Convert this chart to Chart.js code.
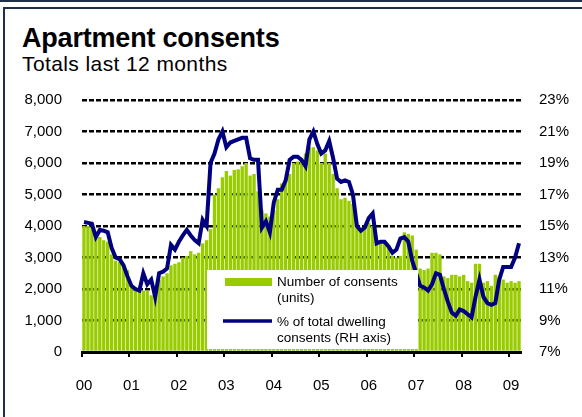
<!DOCTYPE html>
<html>
<head>
<meta charset="utf-8">
<script src="https://cdn.jsdelivr.net/npm/chart.js@4"></script>
<style>
  html, body { margin: 0; padding: 0; background: #fff; }
  #wrap { position: relative; width: 582px; height: 417px; overflow: hidden; font-family: Arial, "Liberation Sans", sans-serif; }
  .rule { position: absolute; background: #1c3048; }
  #title { position: absolute; left: 22px; top: 23px; font-size: 27px; font-weight: bold; color: #000; white-space: nowrap; letter-spacing: -0.2px; }
  #subtitle { position: absolute; left: 22px; top: 52px; font-size: 21px; color: #000; white-space: nowrap; letter-spacing: 0.4px; }
  #chart { position: absolute; left: 0; top: 0; }
</style>
</head>
<body>
<div id="wrap">
  <div class="rule" style="left:0;top:0;width:582px;height:2px"></div>
  <div class="rule" style="left:3px;top:7px;width:579px;height:2px"></div>
  <div class="rule" style="left:3px;top:7px;width:2px;height:410px"></div>
  <div id="title">Apartment consents</div>
  <div id="subtitle">Totals last 12 months</div>
  <canvas id="chart" width="582" height="417"></canvas>
</div>
<script>
// monthly, Jan 2000 - Mar 2009
var years = ["00", "01", "02", "03", "04", "05", "06", "07", "08", "09"];
var monthsInLast = 3;

// Number of consents (units), 12 month total
var consents = [
    4000, 4000, 3950, 3600, 3650, 3550, 3500, 3100, 2900, 2850, 2800, 2600,
    2100, 2050, 2000, 1950, 1950, 1800, 1800, 2300, 2400, 2500, 2750, 2800,
    2850, 3000, 3050, 3200, 3100, 3150, 3450, 3550, 3900, 5000, 5200, 5550,
    5750, 5600, 5780, 5800, 5900, 6000, 5600, 5650, 5100, 4500, 4400, 4300,
    4500, 4850, 5350, 5500, 5650, 6000, 6050, 6100, 6300, 6500, 6500, 6400,
    6000, 6300, 6000, 5650, 5200, 4850, 4900, 4800, 4700, 4100, 3900, 3950,
    4100, 4000, 3550, 3500, 3450, 3400, 3050, 3000, 3050, 3800, 3750, 3700,
    3250, 2650, 2600, 2650, 3150, 3150, 3100, 2400, 2350, 2450, 2450, 2400,
    2450, 2250, 2200, 2800, 2800, 2200, 2250, 2100, 2450, 2400, 2300, 2200,
    2250, 2200, 2250
];

// % of total dwelling consents (RH axis)
var share = [
    15.25, 15.2, 15.15, 14.3, 14.75, 14.7, 14.6, 13.6, 13.0, 12.9, 12.5, 11.8,
    11.2, 11.0, 10.9, 12.0, 11.3, 11.6, 10.5, 12.0, 12.1, 12.3, 13.8, 13.5,
    14.0, 14.4, 14.75, 14.4, 14.1, 13.9, 15.4, 15.0, 19.0, 19.6, 20.5, 21.0,
    20.0, 20.3, 20.4, 20.5, 20.6, 20.6, 19.3, 19.2, 19.2, 14.9, 15.3, 14.6,
    16.5, 17.3, 17.3, 17.9, 19.2, 19.4, 19.4, 19.2, 18.8, 20.5, 21.0, 20.2,
    19.6, 19.8, 20.4, 19.3, 18.0, 17.8, 17.9, 17.8, 17.0, 15.0, 14.7, 14.9,
    15.5, 15.8, 13.9, 14.0, 14.0, 13.7, 13.3, 13.5, 14.2, 14.3, 14.0, 12.8,
    12.0, 11.2, 11.1, 10.9, 11.3, 12.0, 11.9, 11.0, 10.2, 9.5, 9.3, 9.7,
    9.6, 9.4, 9.2, 10.5, 11.6, 10.5, 10.1, 10.0, 10.1, 11.6, 12.4, 12.4,
    12.4, 13.0, 13.9
];

var legendItems = [
    ["Number of consents", "(units)"],
    ["% of total dwelling", "consents (RH axis)"]
];

var green = "#99cc00";
var navy = "#000080";
var font = "Arial, 'Liberation Sans', sans-serif";

var labels = [];
for (var y = 0; y < years.length; y++) {
    var n = (y == years.length - 1) ? monthsInLast : 12;
    for (var m = 0; m < n; m++)
        labels.push(m == 0 ? years[y] : "");
}

var boxLegend = {
    id: "boxLegend",
    afterDatasetsDraw: function (chart) {
        var ctx = chart.ctx;
        ctx.save();
        ctx.fillStyle = "#fff";
        ctx.fillRect(207, 270, 211, 79);
        ctx.fillStyle = green;
        ctx.fillRect(225, 278, 47, 8);
        ctx.strokeStyle = navy;
        ctx.lineWidth = 3.5;
        ctx.beginPath();
        ctx.moveTo(223, 321);
        ctx.lineTo(272, 321);
        ctx.stroke();
        ctx.fillStyle = "#000";
        ctx.font = "13.5px " + font;
        ctx.textBaseline = "middle";
        ctx.fillText(legendItems[0][0], 277, 282);
        ctx.fillText(legendItems[0][1], 277, 298);
        ctx.fillText(legendItems[1][0], 277, 322);
        ctx.fillText(legendItems[1][1], 277, 338);
        ctx.restore();
    }
};

function yearTick(c) {
    return (c.tick && c.tick.label !== "") ? "#000" : "rgba(0,0,0,0)";
}

new Chart(document.getElementById("chart"), {
    type: "bar",
    data: {
        labels: labels,
        datasets: [
            {
                type: "line",
                label: "% of total dwelling consents (RH axis)",
                data: share,
                yAxisID: "y1",
                borderColor: navy,
                borderWidth: 4,
                pointRadius: 0,
                tension: 0,
                order: 0
            },
            {
                type: "bar",
                label: "Number of consents (units)",
                data: consents,
                yAxisID: "y",
                backgroundColor: green,
                barPercentage: 0.85,
                categoryPercentage: 1.0,
                order: 1
            }
        ]
    },
    plugins: [boxLegend],
    options: {
        responsive: false,
        animation: false,
        layout: { padding: { top: 100, left: 0, right: 0, bottom: 0 } },
        plugins: {
            legend: { display: false },
            title: { display: false },
            tooltip: { enabled: false }
        },
        scales: {
            x: {
                offset: true,
                afterFit: function (s) { s.height = 65; },
                grid: {
                    offset: true,
                    drawOnChartArea: false,
                    drawTicks: true,
                    tickLength: 5,
                    lineWidth: 2,
                    color: yearTick
                },
                border: { display: true, color: "#000", width: 3 },
                ticks: {
                    autoSkip: false,
                    maxRotation: 0,
                    padding: 20,
                    color: "#000",
                    font: { family: font, size: 15 }
                }
            },
            y: {
                position: "left",
                min: 0,
                max: 8000,
                afterFit: function (s) { s.width = 82; },
                grid: { color: "#000", lineWidth: 2.5, drawTicks: false },
                border: { display: false, dash: [5, 2] },
                ticks: {
                    stepSize: 1000,
                    padding: 20,
                    color: "#000",
                    font: { family: font, size: 15 },
                    callback: function (v) { return v.toLocaleString("en-US"); }
                }
            },
            y1: {
                position: "right",
                min: 7,
                max: 23,
                afterFit: function (s) { s.width = 61; },
                grid: { display: false, drawTicks: false },
                border: { display: false },
                ticks: {
                    stepSize: 2,
                    padding: 18,
                    color: "#000",
                    font: { family: font, size: 15 },
                    callback: function (v) { return v + "%"; }
                }
            }
        }
    }
});
</script>
</body>
</html>
